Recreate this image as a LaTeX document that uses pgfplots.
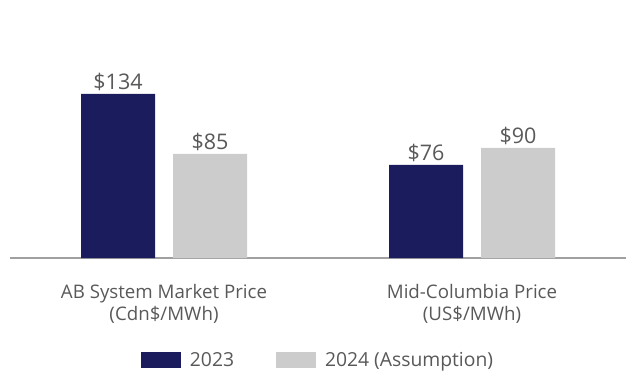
\documentclass[border=0pt]{standalone}
\usepackage{pgfplots}
\pgfplotsset{compat=1.18}
\usepackage{fontspec}
\setmainfont{Open Sans}
\definecolor{navy}{RGB}{26,28,94}
\definecolor{lgray}{RGB}{204,204,204}
\definecolor{txt}{RGB}{89,89,89}
\definecolor{axl}{RGB}{160,160,160}
\begin{document}
\begin{tikzpicture}
\useasboundingbox (-10bp,-126bp) rectangle (626bp,258bp);
\begin{axis}[
  at={(0,0)}, anchor=south west,
  scale only axis,
  width=616bp, height=220.3bp,
  xmin=-0.5, xmax=1.5, ymin=0, ymax=180,
  ybar=18bp, bar width=74bp,
  axis y line=none,
  axis x line*=bottom,
  x axis line style={-, color=axl, line width=1.5bp},
  xtick={0,1},
  xticklabels={AB System Market Price\\(Cdn\$/MWh), Mid-Columbia Price\\(US\$/MWh)},
  xtick style={draw=none},
  xticklabel style={align=center, font=\fontsize{18.7bp}{22bp}\selectfont, text=txt, yshift=-19bp},
  nodes near coords={\$\pgfmathprintnumber[assume math mode=true]{\pgfplotspointmeta}},
  nodes near coords style={font=\fontsize{21.5bp}{24bp}\selectfont, text=txt},
  legend style={draw=none, at={(0.5,-0.463)}, anchor=center,
    legend columns=-1, font=\fontsize{19.3bp}{22bp}\selectfont, text=txt,
    /tikz/every odd column/.append style={column sep=7bp},
    /tikz/every even column/.append style={column sep=40bp}},
  legend image code/.code={\fill[#1] (0bp,-8bp) rectangle (40bp,8bp);},
]
\addplot[fill=navy, draw=none] coordinates {(0,134) (1,76)};
\addplot[fill=lgray, draw=none] coordinates {(0,85) (1,90)};
\legend{2023, 2024 (Assumption)}
\end{axis}
\end{tikzpicture}
\end{document}
